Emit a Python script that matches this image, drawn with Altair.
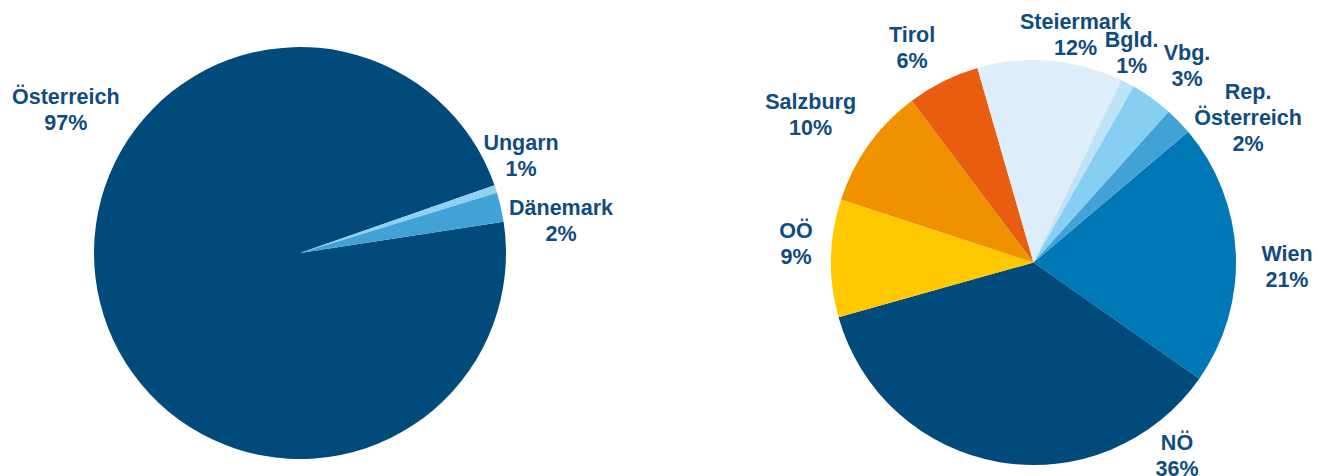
import math
import altair as alt
import pandas as pd

# ---------------- data ----------------
left_categories = ["Österreich", "Ungarn", "Dänemark"]
left_values = [97.1, 0.6, 2.3]
left_labels = ["Österreich\n97%", "Ungarn\n1%", "Dänemark\n2%"]
left_colors = ["#004A7C", "#8DD1F3", "#42A2D6"]

right_categories = ["Wien", "NÖ", "OÖ", "Salzburg", "Tirol", "Steiermark",
                    "Bgld.", "Vbg.", "Rep. Österreich"]
right_values = [20.9, 35.9, 9.4, 9.7, 5.8, 11.6, 1.1, 3.4, 2.2]
right_labels = ["Wien\n21%", "NÖ\n36%", "OÖ\n9%", "Salzburg\n10%", "Tirol\n6%",
                "Steiermark\n12%", "Bgld.\n1%", "Vbg.\n3%", "Rep.\nÖsterreich\n2%"]
right_colors = ["#0078B6", "#004A7C", "#FFC800", "#F09100", "#E85D0F",
                "#DEEFFB", "#BEE2F7", "#87CFF2", "#42A2D6"]

# ---------------- layout ----------------
W, H = 1318, 476
TEXT_COLOR = "#0F4C7F"
FONT = "Liberation Sans"
FONT_SIZE = 21.5
LINE_H = 26

left_layout = dict(cx=300, cy=253, r=206, start_deg=81.25,
                   label_angle=[301.5, 66.1, 82.8],
                   label_dist=[274.7, 241.8, 263.1])
right_layout = dict(cx=1033.5, cy=262.5, r=202.5, start_deg=49.8,
                    label_angle=[90.8, 143.3, 274.7, 303.7, 330.6, 10.4, 25.0, 37.8, 55.9],
                    label_dist=[253.5, 240.1, 238.3, 267.9, 247.4, 232.8, 232.3, 250.5, 259.2])


def pie(cats, vals, labels, colors, lay):
    df = pd.DataFrame({"cat": cats, "value": vals, "idx": list(range(len(cats)))})
    start = math.radians(lay["start_deg"])
    arc = alt.Chart(df).mark_arc(outerRadius=lay["r"]).encode(
        theta=alt.Theta("value:Q", stack=True,
                        scale=alt.Scale(range=[start, start + 2 * math.pi])),
        color=alt.Color("cat:N", scale=alt.Scale(domain=cats, range=colors), legend=None),
        order=alt.Order("idx:Q"),
        x=alt.value(lay["cx"]),
        y=alt.value(lay["cy"]),
    )
    tdf = pd.DataFrame({
        "label": labels,
        "lines": [lab.count("\n") + 1 for lab in labels],
        "lt": [math.radians(a) for a in lay["label_angle"]],
        "lr": lay["label_dist"],
    })
    layers = [arc]
    for n in sorted(tdf["lines"].unique()):
        sub = tdf[tdf["lines"] == n]
        layers.append(
            alt.Chart(sub).mark_text(
                font=FONT, fontWeight="bold", fontSize=FONT_SIZE, color=TEXT_COLOR,
                lineBreak="\n", lineHeight=LINE_H, align="center", baseline="middle",
                dy=-(int(n) - 1) * LINE_H / 2 + 2,
            ).encode(
                theta=alt.Theta("lt:Q", scale=None, stack=False),
                radius=alt.Radius("lr:Q", scale=None),
                text="label:N",
                x=alt.value(lay["cx"]),
                y=alt.value(lay["cy"]),
            )
        )
    return alt.layer(*layers)


left = pie(left_categories, left_values, left_labels, left_colors, left_layout)
right = pie(right_categories, right_values, right_labels, right_colors, right_layout)

chart = alt.layer(left, right).resolve_scale(
    theta="independent", color="independent"
).properties(
    width=W, height=H, padding=0, autosize="none", background="white"
).configure_view(stroke=None)

chart.save("out.html", embed_options={"renderer": "svg", "actions": False})
